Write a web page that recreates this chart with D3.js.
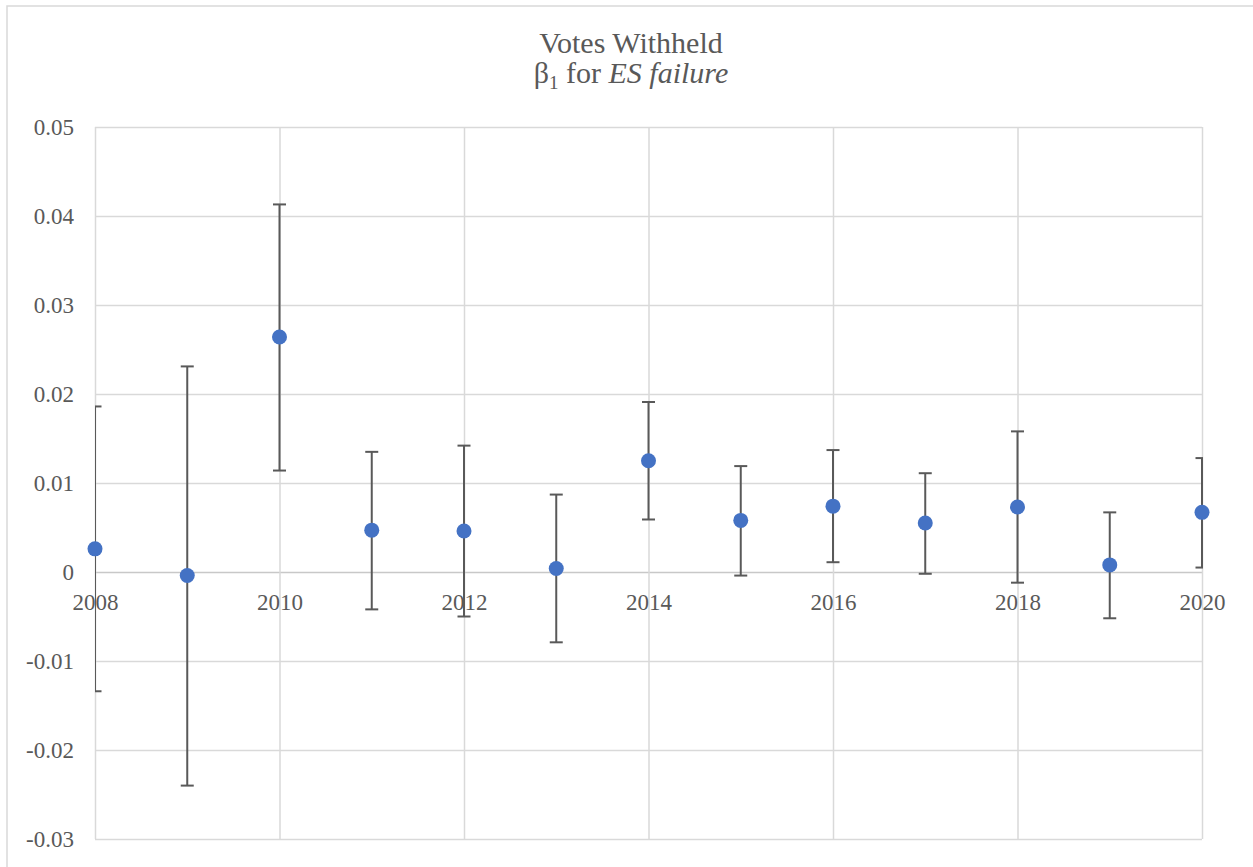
<!DOCTYPE html>
<html>
<head>
<meta charset="utf-8">
<script src="https://cdn.jsdelivr.net/npm/d3@7"></script>
<style>
  html, body { margin: 0; padding: 0; background: #ffffff; }
  svg { display: block; }
  .serif { font-family: "Liberation Serif", "Times New Roman", serif; }
</style>
</head>
<body>
<div id="chart"></div>
<script>
// Yearly coefficient estimates with confidence bounds
const years = [2008, 2009, 2010, 2011, 2012, 2013, 2014, 2015, 2016, 2017, 2018, 2019, 2020];
const estimates = [0.0026, -0.0004, 0.0264, 0.0047, 0.0046, 0.0004, 0.0125, 0.0058, 0.0074, 0.0055, 0.0073, 0.0008, 0.0067];
const upperBounds = [0.0186, 0.0231, 0.0413, 0.0135, 0.0142, 0.0087, 0.0191, 0.0119, 0.0137, 0.0111, 0.0158, 0.0067, 0.0128];
const lowerBounds = [-0.0134, -0.0240, 0.0114, -0.0042, -0.0050, -0.0079, 0.0059, -0.0004, 0.0011, -0.0002, -0.0012, -0.0052, 0.0005];
const xTicks = [2008, 2010, 2012, 2014, 2016, 2018, 2020];
const yTicks = [-0.03, -0.02, -0.01, 0, 0.01, 0.02, 0.03, 0.04, 0.05];

const W = 1253, H = 867;
const plot = { left: 95, right: 1202, top: 127, bottom: 839 };
const FONT = "'Liberation Serif', 'Times New Roman', serif";

const svg = d3.select("#chart").append("svg")
  .attr("width", W).attr("height", H);

// chart frame
svg.append("rect")
  .attr("x", 7).attr("y", 6)
  .attr("width", W + 20).attr("height", H + 20)
  .attr("fill", "#ffffff")
  .attr("stroke", "#d9d9d9").attr("stroke-width", 1.5);

const x = d3.scaleLinear().domain([2008, 2020]).range([plot.left, plot.right]);
const y = d3.scaleLinear().domain([-0.03, 0.05]).range([plot.bottom, plot.top]);

// plain hyphen for negatives, bare "0" at zero
const fmt = v => (Math.abs(v) < 1e-9 ? "0" : String(+v.toFixed(2)));

// horizontal gridlines with value labels
const yAxis = d3.axisLeft(y).tickValues(yTicks).tickFormat(fmt)
  .tickSize(-(plot.right - plot.left)).tickPadding(21);
const gy = svg.append("g").attr("transform", `translate(${plot.left},0)`).call(yAxis);
gy.attr("font-family", FONT).attr("font-size", 23);
gy.select(".domain").remove();
gy.selectAll(".tick line")
  .attr("stroke", d => d === 0 ? "#c8c8c8" : "#d9d9d9")
  .attr("stroke-width", 1.5);
gy.selectAll(".tick text").attr("fill", "#595959");

// vertical gridlines
const xGrid = d3.axisBottom(x).tickValues(xTicks).tickFormat("")
  .tickSize(-(plot.bottom - plot.top));
const gxg = svg.append("g").attr("transform", `translate(0,${plot.bottom})`).call(xGrid);
gxg.select(".domain").remove();
gxg.selectAll(".tick line").attr("stroke", "#d9d9d9").attr("stroke-width", 1.5);

// year labels hang below the zero line
const xAxis = d3.axisBottom(x).tickValues(xTicks).tickFormat(d3.format("d"))
  .tickSize(0).tickPadding(22);
const gx = svg.append("g").attr("transform", `translate(0,${y(0)})`).call(xAxis);
gx.attr("font-family", FONT).attr("font-size", 23);
gx.select(".domain").remove();
gx.selectAll(".tick text").attr("fill", "#595959");

// error bars, caps clipped to the plot area
svg.append("clipPath").attr("id", "plotClip")
  .append("rect")
  .attr("x", plot.left).attr("y", plot.top - 10)
  .attr("width", plot.right - plot.left + 1).attr("height", plot.bottom - plot.top + 20);

const rows = years.map((yr, i) => ({ yr, est: estimates[i], hi: upperBounds[i], lo: lowerBounds[i] }));
const capHalf = 6.5;
const eb = svg.append("g").attr("clip-path", "url(#plotClip)")
  .attr("stroke", "#595959").attr("stroke-width", 2).attr("fill", "none");
const bars = eb.selectAll("g").data(rows).join("g");
bars.append("line")
  .attr("x1", d => x(d.yr)).attr("x2", d => x(d.yr))
  .attr("y1", d => y(d.hi)).attr("y2", d => y(d.lo));
bars.append("line")
  .attr("x1", d => x(d.yr) - capHalf).attr("x2", d => x(d.yr) + capHalf)
  .attr("y1", d => y(d.hi)).attr("y2", d => y(d.hi));
bars.append("line")
  .attr("x1", d => x(d.yr) - capHalf).attr("x2", d => x(d.yr) + capHalf)
  .attr("y1", d => y(d.lo)).attr("y2", d => y(d.lo));

// point estimates
svg.append("g").selectAll("circle").data(rows).join("circle")
  .attr("cx", d => x(d.yr)).attr("cy", d => y(d.est))
  .attr("r", 7.5).attr("fill", "#4472c4");

// title
const title = svg.append("text")
  .attr("class", "serif")
  .attr("text-anchor", "middle")
  .attr("fill", "#595959")
  .attr("font-family", FONT)
  .attr("font-size", 30);
title.append("tspan").attr("x", 631).attr("y", 53).attr("font-family", FONT).text("Votes Withheld");
const l2 = title.append("tspan").attr("x", 631).attr("y", 83).attr("font-family", FONT);
l2.append("tspan").attr("font-family", FONT).text("β");
l2.append("tspan").attr("font-family", FONT).attr("dy", 6).attr("font-size", 19).text("1");
l2.append("tspan").attr("font-family", FONT).attr("dy", -6).text(" for ");
l2.append("tspan").attr("font-family", FONT).attr("font-style", "italic").text("ES failure");
</script>
</body>
</html>
